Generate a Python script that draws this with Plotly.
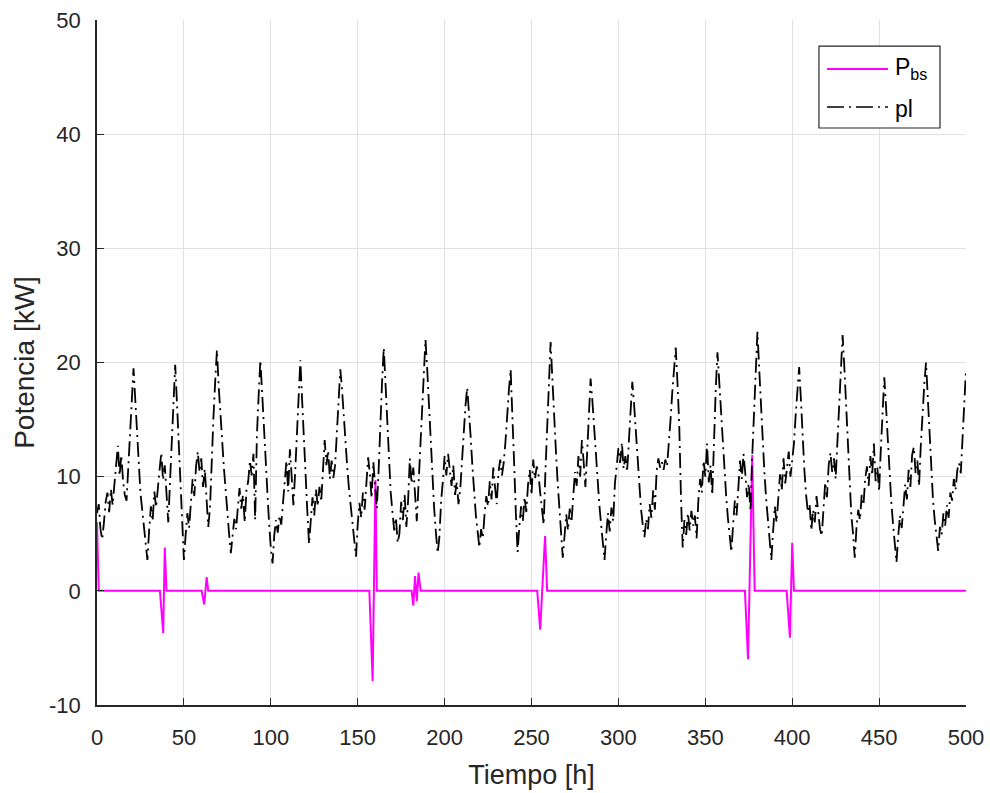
import plotly.graph_objects as go

# Hourly load profile pl [kW], hours 0..500 (one row per day)
pl = [
    6.8, 7.6, 5.4, 4.5, 6.0, 7.8, 8.6, 6.9, 8.9, 7.5, 9.3, 10.8, 12.7, 10.1, 11.9, 9.6, 8.4, 7.9, 10.6, 13.8, 16.9, 19.5, 16.8, 13.9,
    11.2, 8.6, 7.1, 5.6, 4.4, 2.7, 5.3, 7.4, 6.1, 8.7, 7.3, 9.4, 10.6, 12.1, 9.7, 11.0, 8.1, 6.0, 9.5, 13.4, 17.0, 19.8, 16.5, 13.2,
    9.6, 5.8, 2.7, 4.9, 6.8, 5.5, 7.9, 9.8, 8.3, 10.9, 12.2, 10.4, 11.6, 9.1, 10.7, 8.0, 5.6, 7.2, 11.8, 15.2, 18.3, 21.1, 18.0, 15.3,
    13.0, 10.8, 8.9, 6.7, 5.0, 3.3, 4.6, 6.3, 5.4, 7.6, 9.0, 7.2, 8.4, 6.0, 8.8, 9.6, 11.4, 10.1, 12.0, 6.2, 13.6, 17.1, 20.2, 17.4,
    14.3, 11.0, 8.2, 5.9, 3.8, 2.4, 4.9, 6.2, 5.1, 6.6, 5.8, 7.8, 9.6, 11.4, 8.7, 12.4, 10.0, 7.5, 10.3, 13.9, 17.3, 20.2, 16.8, 13.1,
    10.2, 7.0, 4.1, 6.1, 8.2, 6.6, 8.9, 7.4, 9.1, 7.8, 10.4, 13.2, 11.0, 12.3, 9.8, 11.4, 9.9, 11.0, 13.8, 16.6, 19.4, 17.6, 15.2, 12.6,
    10.8, 8.9, 7.3, 5.6, 4.2, 3.0, 5.8, 7.7, 6.4, 8.6, 7.1, 9.6, 11.7, 10.2, 8.1, 11.3, 9.0, 7.2, 10.4, 14.8, 18.2, 21.3, 17.9, 14.4,
    11.2, 8.6, 6.9, 5.3, 6.4, 4.2, 5.0, 7.8, 6.2, 8.4, 5.6, 7.9, 11.6, 9.4, 10.8, 8.7, 6.1, 9.3, 12.8, 15.9, 19.2, 22.0, 19.4, 16.0,
    12.6, 9.5, 7.2, 5.1, 3.3, 4.7, 7.9, 9.6, 11.8, 10.1, 12.0, 10.6, 9.2, 11.0, 8.4, 9.5, 7.6, 8.9, 11.7, 13.9, 16.2, 17.8, 16.0, 13.5,
    10.9, 8.4, 6.6, 5.2, 3.8, 5.4, 4.6, 6.7, 8.3, 7.4, 9.6, 8.0, 10.8, 9.1, 7.6, 10.4, 11.5, 10.1, 11.2, 13.0, 15.8, 17.6, 19.4, 15.9,
    11.2, 6.8, 3.4, 5.6, 7.4, 6.1, 8.2, 6.9, 9.3, 10.6, 8.4, 11.5, 9.8, 10.9, 10.2, 8.6, 7.4, 5.8, 10.4, 14.7, 18.6, 21.8, 18.6, 15.1,
    12.4, 9.6, 7.3, 5.0, 2.9, 4.8, 6.7, 5.3, 7.2, 6.0, 8.6, 10.4, 9.2, 11.8, 10.0, 13.2, 11.3, 9.1, 12.0, 15.4, 18.6, 16.7, 14.3, 12.0,
    9.8, 7.6, 5.9, 4.3, 2.7, 4.9, 6.8, 5.2, 7.3, 6.1, 9.4, 10.9, 12.5, 11.2, 13.0, 10.7, 11.8, 10.4, 12.9, 15.6, 18.3, 16.4, 14.0, 11.6,
    9.0, 7.2, 5.8, 4.7, 6.3, 5.4, 7.6, 6.4, 8.8, 7.1, 10.5, 11.6, 10.8, 11.3, 10.6, 11.5, 10.9, 12.6, 15.0, 17.4, 19.6, 21.3, 18.2, 14.6,
    8.2, 3.8, 6.2, 4.9, 6.8, 5.3, 7.0, 5.7, 6.6, 4.6, 7.9, 9.8, 8.6, 11.4, 10.0, 12.9, 9.5, 11.0, 8.4, 13.8, 17.6, 20.9, 18.3, 15.6,
    12.8, 10.5, 8.3, 6.4, 4.9, 3.4, 5.8, 7.9, 6.6, 9.1, 11.4, 9.8, 12.0, 10.3, 8.2, 9.4, 7.0, 11.8, 15.6, 19.2, 22.7, 19.5, 16.2, 13.1,
    10.4, 8.1, 6.2, 4.5, 2.7, 5.2, 7.4, 6.0, 8.5, 10.2, 8.8, 11.6, 9.4, 10.8, 12.2, 10.0, 11.3, 12.9, 15.4, 17.8, 19.6, 16.8, 13.5, 10.6,
    8.4, 6.9, 7.6, 5.3, 7.1, 6.0, 8.3, 6.7, 5.4, 4.8, 7.2, 9.5, 8.2, 11.0, 12.1, 10.4, 11.6, 9.8, 13.0, 16.4, 19.7, 22.4, 19.6, 16.5,
    13.0, 9.8, 6.7, 5.0, 2.9, 5.6, 7.1, 6.2, 8.4, 7.5, 9.8, 10.9, 9.2, 11.8, 10.1, 12.9, 9.6, 10.8, 8.7, 12.4, 15.9, 18.7, 16.1, 13.2,
    10.0, 7.8, 5.9, 4.4, 2.5, 4.8, 6.6, 5.5, 7.4, 9.3, 8.0, 10.6, 9.1, 11.9, 12.6, 10.3, 11.4, 9.2, 12.8, 15.7, 18.1, 20.0, 16.9, 13.4,
    10.5, 8.0, 6.2, 4.8, 3.5, 5.6, 4.9, 6.8, 5.7, 7.5, 6.4, 8.6, 7.9, 9.8, 8.8, 10.6, 11.2, 10.3, 13.6, 16.8, 19.4,
]
hours = list(range(len(pl)))

# Battery power P_bs [kW]: breakpoints (hour, value); zero between events
pbs_hours = [0, 1,
             36.2, 38.1, 39.0, 40.0,
             60.2, 61.7, 63.1, 64.0,
             156.7, 158.6, 160.2, 161.0,
             181.0, 182.0, 183.0, 184.0, 185.0, 186.2,
             253.3, 255.0, 257.8, 259.0,
             372.8, 374.6, 377.0, 378.4,
             396.8, 398.7, 400.0, 401.0,
             500]
pbs_vals = [6.0, 0.0,
            0.0, -3.7, 3.8, 0.0,
            0.0, -1.2, 1.2, 0.0,
            0.0, -7.9, 9.7, 0.0,
            0.0, -1.3, 1.3, -0.9, 1.6, 0.0,
            0.0, -3.4, 4.8, 0.0,
            0.0, -6.0, 11.9, 0.0,
            0.0, -4.1, 4.2, 0.0,
            0.0]

x_ticks = list(range(0, 501, 50))
y_ticks = list(range(-10, 51, 10))
y_ticktext = [str(v) for v in y_ticks]  # plain hyphen for negatives

FONT = "Liberation Sans, Arial, Helvetica, sans-serif"
DARK = "#262626"
GRID = "#e1e1e1"
MAGENTA = "#ff00ff"
PL_DASH = "15px,5px,2px,5px"

fig = go.Figure()
fig.add_trace(go.Scatter(x=pbs_hours, y=pbs_vals, mode="lines", name="P<sub>bs</sub>",
                         line=dict(color=MAGENTA, width=2), showlegend=False))
fig.add_trace(go.Scatter(x=hours, y=pl, mode="lines", name="pl",
                         line=dict(color="black", width=1.8, dash=PL_DASH), showlegend=False))

axis_common = dict(
    automargin=False,
    showgrid=True, gridcolor=GRID, gridwidth=1,
    showline=True, linecolor=DARK, linewidth=1.5, mirror=False,
    ticks="inside", ticklen=7, tickwidth=1, tickcolor=DARK,
    zeroline=False,
    tickfont=dict(family=FONT, size=22, color=DARK),
)

fig.update_layout(
    width=990, height=793,
    margin=dict(l=97, r=24, t=20, b=88),
    paper_bgcolor="white", plot_bgcolor="white",
    font=dict(family=FONT, color=DARK),
    xaxis=dict(range=[0, 500], tickvals=x_ticks, ticklabelstandoff=12,
               title=dict(text="Tiempo [h]", font=dict(size=27, family=FONT, color=DARK), standoff=16),
               **axis_common),
    yaxis=dict(range=[-10, 50], tickvals=y_ticks, ticktext=y_ticktext, ticklabelstandoff=10,
               title=dict(text="Potencia [kW]", font=dict(size=28, family=FONT, color=DARK), standoff=6),
               **axis_common),
)

# Legend box drawn in paper coordinates
fig.add_shape(type="rect", xref="paper", yref="paper",
              x0=0.8308, x1=0.9701, y0=0.8423, y1=0.9620,
              line=dict(color=DARK, width=1.2), fillcolor="white", layer="above")
fig.add_shape(type="line", xref="paper", yref="paper",
              x0=0.8400, x1=0.9102, y0=0.9285, y1=0.9285,
              line=dict(color=MAGENTA, width=2), layer="above")
fig.add_shape(type="line", xref="paper", yref="paper",
              x0=0.8400, x1=0.9102, y0=0.8730, y1=0.8730,
              line=dict(color="black", width=1.5, dash="17px,5px,2px,5px"), layer="above")
fig.add_annotation(xref="paper", yref="paper", x=0.9160, y=0.9285,
                   text="P<sub>bs</sub>", showarrow=False, xanchor="left", yanchor="middle",
                   font=dict(family=FONT, size=23, color="black"))
fig.add_annotation(xref="paper", yref="paper", x=0.9160, y=0.8700,
                   text="pl", showarrow=False, xanchor="left", yanchor="middle",
                   font=dict(family=FONT, size=23, color="black"))

fig.write_html("out.html")
